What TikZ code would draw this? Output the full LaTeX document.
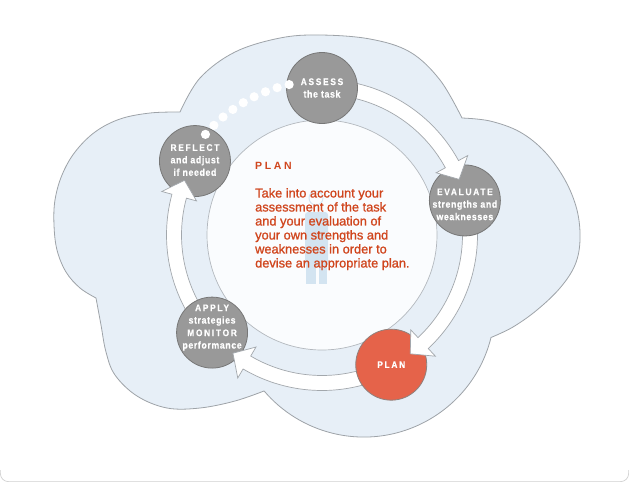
\documentclass[tikz,border=0pt]{standalone}
\usepackage{fontspec}
\setmainfont{Liberation Sans}
\newfontfamily\capsf[LetterSpace=18,FakeStretch=0.88,FakeBold=0.5]{Liberation Sans}
\newfontfamily\lowf[LetterSpace=6,FakeStretch=0.88,FakeBold=0.5]{Liberation Sans}
\newfontfamily\bodyf[FakeBold=1.1]{Liberation Sans}
\newfontfamily\headf[LetterSpace=25]{Liberation Sans}
\definecolor{cloudfill}{HTML}{E7EFF7}
\definecolor{cloudline}{HTML}{9EA3A8}
\definecolor{innerfill}{HTML}{FAFCFE}
\definecolor{innerline}{HTML}{B3B8BE}
\definecolor{bandline}{HTML}{A2A7AC}
\definecolor{nodegray}{HTML}{999999}
\definecolor{nodeline}{HTML}{777777}
\definecolor{planred}{HTML}{E5634A}
\definecolor{planline}{HTML}{8F817D}
\definecolor{txtred}{HTML}{D0461E}
\definecolor{personc}{HTML}{D3E4F1}
\definecolor{framec}{HTML}{CFCFCF}
\newcommand\capline[1]{{\capsf\bfseries\fontsize{9.5}{12.5}\selectfont #1}}
\newcommand\lowline[1]{{\lowf\bfseries\fontsize{10}{12.5}\selectfont #1}}
\newcommand\bandarrow[2]{%
  \filldraw[band] (#1:155.5) arc[start angle=#1, end angle=#2, radius=155.5]
    -- (#2:166) -- ({#2+6.5}:148) -- (#2:130) -- (#2:140.5)
    arc[start angle=#2, end angle=#1, radius=140.5] -- cycle;}
\tikzset{
  cloud/.style={fill=cloudfill, draw=cloudline, line width=0.8pt},
  innerdisc/.style={fill=innerfill, draw=innerline, line width=0.7pt},
  band/.style={fill=white, draw=bandline, line width=0.7pt, line join=miter},
  stage/.style={circle, draw=nodeline, fill=nodegray, line width=0.8pt,
    minimum size=71pt, inner sep=0pt},
  planstage/.style={stage, fill=planred, draw=planline},
  stagetext/.style={inner sep=0pt, text=white, align=center,
    font=\fontsize{10}{12.5}\selectfont},
  dot/.style={fill=white},
}
\begin{document}
\begin{tikzpicture}[x=1pt,y=-1pt]
\useasboundingbox (0,0) rectangle (629,483);
% frame bottom
\draw[framec, line width=0.7pt, rounded corners=8pt] (0.4,470) -- (0.4,481.6) -- (628.6,481.6) -- (628.6,470);
% cloud
\filldraw[cloud]
  plot[smooth, tension=0.6] coordinates {(180,112) (200,78) (235,52) (280,38) (320,35) (370,39) (410,52) (440,80) (462,118)}
  -- plot[smooth, tension=0.6] coordinates {(462,118) (490,121) (520,132) (545,152) (565,180) (577,210) (580,240) (575,265) (560,288) (537,310) (513,327) (491,337.5)}
  arc[start angle=13.9, end angle=139.6, radius=131]
  -- plot[smooth, tension=0.6] coordinates {(264.2,390.9) (235,401) (200,408) (167,408) (137,396) (115,375) (106,352) (101,325) (96,298)}
  -- plot[smooth, tension=0.6] coordinates {(96,298) (80,288) (66,272) (57,250) (54,225) (55,200) (62,175) (75,152) (95,132) (120,119) (150,113) (180,112)}
  -- cycle;
% inner disc
\filldraw[innerdisc] (322,235) circle[radius=115];
% faint person
\draw[personc, line width=0.9pt] (316,198) circle[radius=7];
\fill[personc, rounded corners=3pt] (305,212) rectangle (328,266);
\fill[personc] (306,262) rectangle (315.5,284);
\fill[personc] (318.5,262) rectangle (327,284);
% text
\node[anchor=base west, inner sep=0pt, text=txtred, font=\headf\bfseries\fontsize{10.5}{12}\selectfont] (head) at (255,169) {PLAN};
\node[anchor=north west, inner sep=0pt, text=txtred, align=left, font=\bodyf\fontsize{12.8}{14}\selectfont] (body) at (255,188)
  {Take into account your\\assessment of the task\\and your evaluation of\\your own strengths and\\weaknesses in order to\\devise an appropriate plan.};
% stages and arrows
\begin{scope}[shift={(322,235)}]
  \node[stage] (reflect) at (210.2:147) {};
  \bandarrow{138.4}{195.2}
  \node[stage] (apply) at (138.4:147) {};
  \bandarrow{61.9}{120.5}
  \node[planstage] (plan) at (61.9:147) {};
  \bandarrow{-13.6}{46.9}
  \node[stage] (evaluate) at (-13.6:147) {};
  \bandarrow{-90}{-28.6}
  \node[stage] (assess) at (-90:147) {};
  \foreach \k in {0,...,8} {
    \fill[dot] ({220.8+4.61*\k}:154) circle[radius=4.6];
  }
\end{scope}
% stage labels on top
\node[stagetext] (reflectlbl) at ([yshift=1pt]reflect.center) {\capline{REFLECT}\\\lowline{and adjust}\\\lowline{if needed}};
\node[stagetext] (applylbl) at ([yshift=5pt]apply.center) {\capline{APPLY}\\\lowline{strategies}\\\capline{MONITOR}\\\lowline{performance}};
\node[stagetext] (planlbl) at (plan) {\capline{PLAN}};
\node[stagetext] (evaluatelbl) at ([yshift=-4pt]evaluate.center) {\capline{EVALUATE}\\\lowline{strengths and}\\\lowline{weaknesses}};
\node[stagetext] (assesslbl) at (assess) {\capline{ASSESS}\\\lowline{the task}};
\end{tikzpicture}
\end{document}
